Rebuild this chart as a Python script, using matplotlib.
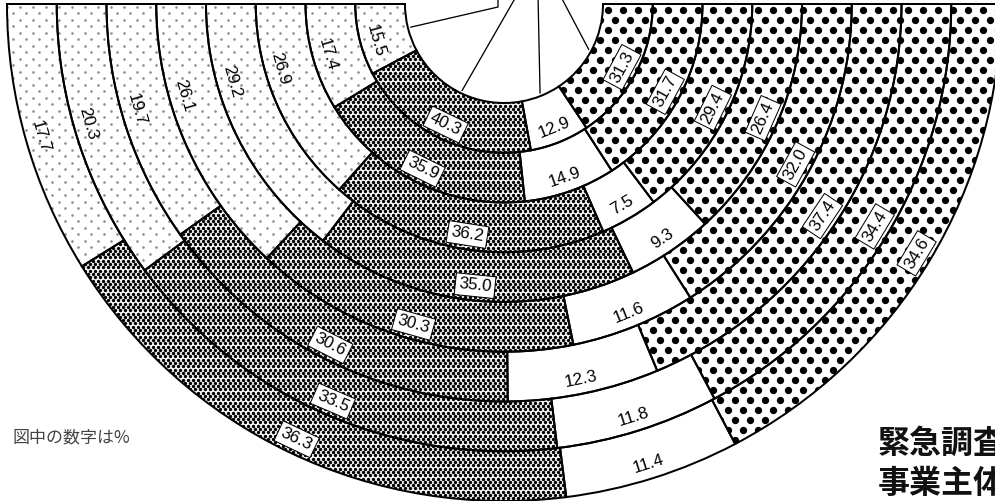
import matplotlib
matplotlib.use('Agg')
import matplotlib.pyplot as plt
from matplotlib.patches import Wedge
import numpy as np

plt.rcParams['font.family'] = ['Liberation Sans Narrow', 'Liberation Sans', 'DejaVu Sans']

# values per ring, innermost ring first (percent)
light_dots = [15.5, 17.4, 26.9, 29.2, 26.1, 19.7, 20.3, 17.7]
dense_dots = [40.3, 35.9, 36.2, 35.0, 30.3, 30.6, 33.5, 36.3]
blank = [12.9, 14.9, 7.5, 9.3, 11.6, 12.3, 11.8, 11.4]
big_dots = [31.3, 31.7, 29.4, 26.4, 32.0, 37.4, 34.4, 34.6]

note_text = '図中の数字は%'
title_lines = ['緊急調査', '事業主体']

W, H, DPI = 995, 501, 72
CX, CY = 504, 4          # centre of the half rings (pixel coords)
R_IN, R_OUT = 99, 497
n_rings = len(light_dots)
ring_w = (R_OUT - R_IN) / n_rings

# screen-tone per segment: (dot period, row step, dot diameter, colour) or None, label box?
styles = [
    ((13.0, 6.5, 2.6, '#8c8c8c'), False),
    ((5.0, 3.3, 3.4, 'black'), True),
    (None, False),
    ((15.0, 10.0, 7.3, 'black'), True),
]

fig = plt.figure(figsize=(W / DPI, H / DPI), dpi=DPI)
ax = fig.add_axes([0, 0, 1, 1])
ax.set_xlim(0, W)
ax.set_ylim(H, 0)
ax.axis('off')


def polar(r, theta):
    # theta: degrees measured from the left edge, through the bottom, to the right
    phi = np.radians(180 - theta)
    return CX + r * np.cos(phi), CY + r * np.sin(phi)


def screen_tone(patch, r_in, r_out, t1, t2, tone):
    # staggered dot pattern, anchored to the page, clipped to the patch
    period, step, diam, color = tone
    ext = patch.get_path().get_extents()
    rows = np.arange(np.floor(ext.y0 / step) - 1, np.ceil(ext.y1 / step) + 2)
    xs, ys = [], []
    for j in rows:
        shift = (j % 2) * period / 2
        cols = np.arange(np.floor(ext.x0 / period) - 1, np.ceil(ext.x1 / period) + 2)
        xs.append(cols * period + shift)
        ys.append(np.full(cols.size, j * step))
    xs, ys = np.concatenate(xs), np.concatenate(ys)
    rr = np.hypot(xs - CX, ys - CY)
    ang = np.degrees(np.arctan2(ys - CY, xs - CX))
    keep = (rr > r_in - diam) & (rr < r_out + diam) & (ang > t1 - 3) & (ang < t2 + 3)
    ax.scatter(xs[keep], ys[keep], s=diam ** 2, c=color, marker='o', linewidths=0,
               clip_path=patch, zorder=2)


series = [light_dots, dense_dots, blank, big_dots]
ring1_mids = []
for i in range(n_rings):
    vals = [s[i] for s in series]
    total = sum(vals)
    r_outer = R_IN + ring_w * (i + 1)
    start = 0.0
    for k, v in enumerate(vals):
        span = v / total * 180
        t1, t2 = 180 - (start + span), 180 - start
        tone, boxed = styles[k]
        fill = Wedge((CX, CY), r_outer, t1, t2, width=ring_w, facecolor='white',
                     edgecolor='none', linewidth=0, zorder=1)
        ax.add_patch(fill)
        if tone is not None:
            screen_tone(fill, r_outer - ring_w, r_outer, t1, t2, tone)
        ax.add_patch(Wedge((CX, CY), r_outer, t1, t2, width=ring_w, facecolor='none',
                           edgecolor='black', linewidth=2.0, zorder=3))
        mid = start + span / 2
        if i == 0:
            ring1_mids.append(mid)
        theta = 16 if k == 0 else mid
        x, y = polar(r_outer - ring_w / 2 + 10, theta)
        bbox = dict(boxstyle='square,pad=0.2', fc='white', ec='black', lw=1.0) if boxed else None
        ax.text(x, y, f'{v:.1f}', rotation=theta - 90, rotation_mode='anchor',
                ha='center', va='center', fontsize=17, color='black', bbox=bbox, zorder=5)
        start += span

# leader lines from the inner ring up to the (cropped) category names
leader_tops = [498, 517, 538, 560]
for mid, xt in zip(ring1_mids, leader_tops):
    x0, y0 = polar(R_IN - 3, mid)
    if xt == leader_tops[0]:
        ax.plot([x0, xt, xt], [y0, 7, -5], color='black', lw=1.3)
    else:
        ax.plot([x0, xt], [y0, -5], color='black', lw=1.3)

ax.text(12, 437, note_text, fontsize=17, color='#444444', va='center', ha='left',
        family=['Noto Sans CJK JP', 'DejaVu Sans'])
for j, line in enumerate(title_lines):
    ax.text(878, 443 + j * 41, line, fontsize=32, fontweight='bold', color='#111111',
            va='center', ha='left', family=['Noto Sans CJK JP', 'DejaVu Sans'])

fig.savefig('out.png', dpi=DPI)
